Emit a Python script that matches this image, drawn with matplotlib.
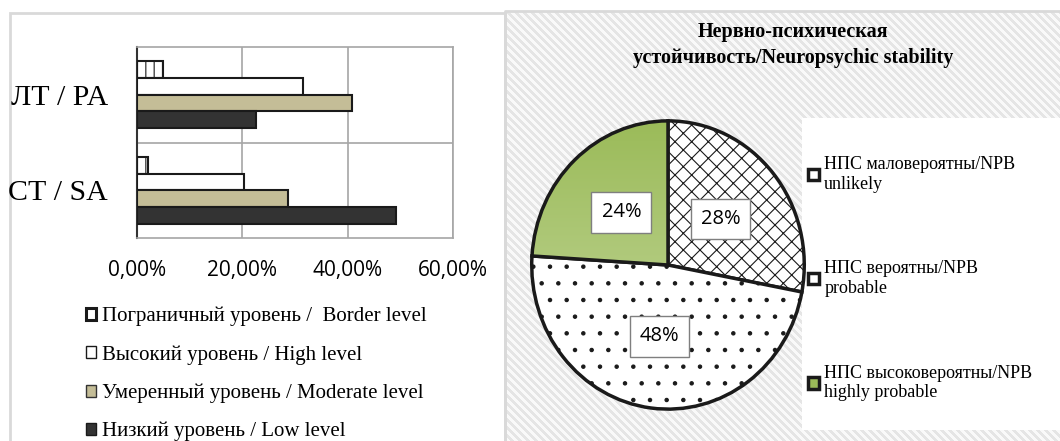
import numpy as np
import matplotlib
matplotlib.use("Agg")
import matplotlib.pyplot as plt
from matplotlib.patches import Rectangle, Patch

serif = ["Liberation Serif", "DejaVu Serif"]
sans = ["Open Sans", "DejaVu Sans"]

# bar chart data
groups = ["СТ / SA", "ЛТ / PA"]
series = ["Пограничный уровень /  Border level",
          "Высокий уровень / High level",
          "Умеренный уровень / Moderate level",
          "Низкий уровень / Low level"]
border = [2.0, 4.9]
high = [20.3, 31.5]
moderate = [28.6, 40.8]
low = [49.1, 22.6]
xticks = [0, 20, 40, 60]
xtick_labels = ["0,00%", "20,00%", "40,00%", "60,00%"]

# pie data
pie_labels = ["НПС маловероятны/NPB\nunlikely",
              "НПС вероятны/NPB\nprobable",
              "НПС высоковероятны/NPB\nhighly probable"]
pie_values = [28, 48, 24]
pie_title = "Нервно-психическая\nустойчивость/Neuropsychic stability"

W, H = 1060, 441
fig = plt.figure(figsize=(W / 100, H / 100), dpi=100)
plt.rcParams["hatch.linewidth"] = 0.8


def fr(x0, y0, x1, y1):
    # pixel box (top-left origin) -> figure fraction rect
    return [x0 / W, 1 - y1 / H, (x1 - x0) / W, (y1 - y0) / H]


# background panels
bg = fig.add_axes([0, 0, 1, 1], zorder=-10)
bg.set_xlim(0, W)
bg.set_ylim(H, 0)
bg.axis("off")
bg.add_patch(Rectangle((10, 13), 495, 440, fc="white", ec="#d9d9d9", lw=2))
yy, xx = np.mgrid[0:H - 11, 0:W - 505]
stripes = ((xx - yy) % 8) < 4
img = np.where(stripes[..., None], np.array([0.90, 0.90, 0.90]), np.array([0.98, 0.98, 0.98]))
bg.imshow(img, extent=(505, W, H, 11), interpolation="nearest", aspect="auto")
bg.plot([505, 505, W], [H, 11, 11], color="#d9d9d9", lw=2)
bg.add_patch(Rectangle((802, 118), W - 802, 312, fc="white", ec="none"))

# bar chart
ax = fig.add_axes(fr(137, 47, 453, 238))
y = np.arange(len(groups))
h = 0.175
kw = dict(height=h, edgecolor="#1a1a1a", linewidth=1.5, zorder=3)
b1 = ax.barh(y + 1.5 * h, border, color="white", hatch="||", **kw)
b2 = ax.barh(y + 0.5 * h, high, color="white", **kw)
b3 = ax.barh(y - 0.5 * h, moderate, color="#c4bd97", **kw)
b4 = ax.barh(y - 1.5 * h, low, color="#333333", **kw)
ax.set_xlim(0, 60)
ax.set_ylim(-0.5, 1.5)
ax.set_xticks(xticks)
ax.set_xticklabels(xtick_labels, fontsize=15, family=sans)
ax.set_yticks(y)
ax.set_yticklabels(groups, fontsize=21.5, family=serif)
ax.tick_params(length=0)
ax.tick_params(axis="x", pad=16)
ax.tick_params(axis="y", pad=21)
ax.grid(axis="x", color="#a6a6a6", lw=1.2, zorder=0)
ax.axhline(0.5, color="#a6a6a6", lw=1.2, zorder=0)
for s in ["top", "right", "bottom"]:
    ax.spines[s].set_color("#a6a6a6")
    ax.spines[s].set_linewidth(1.2)
ax.spines["left"].set_color("#333333")
ax.spines["left"].set_linewidth(1.5)

bar_handles = [Patch(fc="white", ec="#1a1a1a", lw=2.2),
               Patch(fc="white", ec="#1a1a1a", lw=1),
               Patch(fc="#c4bd97", ec="#333333", lw=1),
               Patch(fc="#333333", ec="#1a1a1a", lw=1)]
fig.legend(bar_handles, series, loc="upper left", bbox_to_anchor=(86 / W, 1 - 307 / H),
           frameon=False, prop={"family": serif, "size": 15},
           handlelength=0.5, handleheight=0.5, handletextpad=0.25, labelspacing=0.9,
           borderpad=0, borderaxespad=0)

# pie chart
pax = fig.add_axes(fr(529, 118, 807, 412))
wedges, texts, autotexts = pax.pie(
    pie_values, startangle=90, counterclock=False, radius=1,
    colors=["white", "white", "#b0c97a"],
    autopct="%1.0f%%", pctdistance=0.5,
    wedgeprops=dict(edgecolor="#1a1a1a", linewidth=2.5),
    textprops=dict(fontsize=14.5, family=sans))
wedges[0].set_hatch("xx")
wedges[1].set_hatch(".")
pax.set_aspect("auto")
grad = np.linspace(0, 1, 100)[:, None]
top_c = np.array([0.608, 0.733, 0.349])
bot_c = np.array([0.776, 0.851, 0.627])
gimg = top_c[None, None, :] * (1 - grad[..., None]) + bot_c[None, None, :] * grad[..., None]
gi = pax.imshow(gimg, extent=(-1, 1, -1, 1), aspect="auto", zorder=1.5)
gi.set_clip_path(wedges[2])
wedges[2].set_facecolor("none")
wedges[2].set_zorder(2)
pax.set_xlim(-1.02, 1.02)
pax.set_ylim(-1.02, 1.02)
for t in autotexts:
    t.set_bbox(dict(boxstyle="square,pad=0.5", fc="white", ec="#7f7f7f", lw=1))
    t.set_zorder(5)

pie_handles = [Patch(fc="white", ec="#1a1a1a", lw=2.5),
               Patch(fc="white", ec="#1a1a1a", lw=2.5),
               Patch(fc="#9bbb59", ec="#1a1a1a", lw=2.5)]
fig.legend(pie_handles, pie_labels, loc="upper left", bbox_to_anchor=(808 / W, 1 - 156 / H),
           frameon=False, prop={"family": serif, "size": 13},
           handlelength=0.6, handleheight=0.6, handletextpad=0.3, labelspacing=3.75,
           borderpad=0, borderaxespad=0)

fig.text(793 / W, 1 - 45 / H, pie_title, ha="center", va="center",
         fontsize=14.5, fontweight="bold", family=serif, linespacing=1.4)

fig.savefig("out.png", dpi=100)
